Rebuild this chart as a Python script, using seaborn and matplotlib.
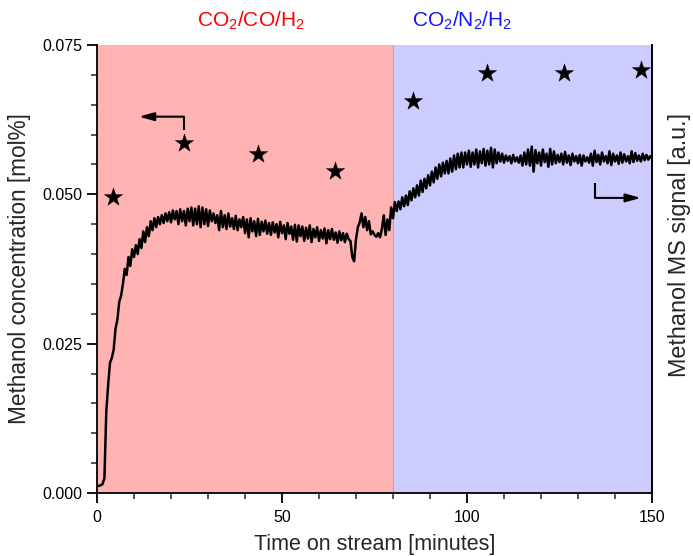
import numpy as np
import pandas as pd
import matplotlib
matplotlib.use("Agg")
import matplotlib.pyplot as plt
import seaborn as sns
from matplotlib.ticker import MultipleLocator, FormatStrFormatter

# ---------------- data ----------------
# GC methanol concentration (stars), left axis
gc_time = [4.3, 23.5, 43.5, 64.3, 85.4, 105.4, 126.2, 147.0]
gc_conc = [0.0496, 0.0586, 0.0568, 0.0539, 0.0656, 0.0703, 0.0703, 0.0708]

# MS signal (a.u.), sampled every 0.5 min from 0 to 150 min
ms_step = 0.5
ms_signal = [
    1.2, 1.2, 1.3, 1.5, 2.5, 13.6, 18.0, 21.8, 22.6, 24.0,
    27.5, 29.0, 32.0, 33.0, 35.0, 37.5, 36.5, 39.5, 38.0, 40.8,
    39.5, 41.5, 40.0, 42.5, 41.0, 43.8, 42.0, 44.5, 43.0, 45.5,
    44.0, 46.0, 44.5, 46.2, 45.0, 46.5, 45.2, 46.8, 45.5, 47.0,
    45.3, 47.3, 45.8, 47.2, 45.0, 47.5, 45.5, 47.2, 44.8, 47.6,
    45.5, 47.8, 44.8, 47.6, 45.0, 48.0, 44.5, 47.8, 45.0, 47.5,
    44.7, 47.3, 45.5, 46.8, 45.2, 46.5, 44.0, 47.2, 44.5, 46.5,
    44.2, 46.8, 44.6, 46.0, 44.2, 46.4, 44.0, 45.8, 44.5, 46.2,
    43.5, 45.8, 42.8, 46.0, 43.8, 45.5, 43.0, 45.9, 43.2, 45.4,
    43.8, 45.6, 43.4, 45.2, 43.2, 45.3, 43.6, 45.0, 42.8, 45.4,
    43.5, 44.8, 42.5, 45.2, 43.4, 44.6, 42.4, 44.9, 42.1, 44.8,
    43.0, 44.6, 42.2, 44.4, 42.6, 44.8, 42.0, 44.2, 42.8, 44.5,
    42.2, 44.0, 42.6, 44.3, 41.8, 44.0, 42.5, 44.2, 42.4, 43.6,
    41.9, 43.8, 42.3, 43.5, 42.0, 43.4, 42.5, 42.2, 39.5, 38.8,
    42.5, 44.5, 45.3, 46.8, 44.5, 46.2, 44.0, 45.5, 43.3, 43.8,
    43.2, 42.9, 43.5, 42.8, 44.2, 46.5, 43.2, 45.8, 44.0, 47.8,
    46.0, 48.7, 47.2, 48.8, 47.5, 49.5, 48.0, 49.8, 48.2, 50.5,
    49.0, 51.0, 49.5, 51.5, 49.8, 52.3, 50.4, 52.6, 51.0, 53.2,
    51.5, 53.8, 52.0, 54.5, 52.6, 55.0, 53.0, 55.3, 53.5, 55.6,
    53.5, 56.0, 53.8, 56.5, 54.2, 56.8, 54.5, 57.0, 54.5, 57.0,
    55.0, 57.3, 54.6, 57.0, 55.0, 57.5, 54.5, 57.2, 55.2, 57.6,
    54.8, 57.3, 55.0, 57.8, 54.5, 57.5, 55.2, 57.0, 55.5, 56.8,
    55.3, 56.5, 55.6, 56.4, 55.2, 56.6, 55.5, 56.2, 55.3, 56.5,
    54.8, 57.0, 55.0, 57.5, 54.8, 58.0, 53.8, 57.4, 55.2, 57.0,
    54.8, 57.5, 55.4, 56.8, 54.6, 57.6, 55.0, 57.2, 55.2, 56.6,
    55.4, 56.8, 55.0, 57.1, 55.3, 56.5, 54.9, 56.8, 55.5, 56.4,
    55.2, 56.6, 54.8, 56.5, 55.5, 56.2, 55.3, 56.8, 54.8, 57.3,
    55.4, 56.6, 55.0, 57.0, 55.5, 56.4, 55.2, 57.2, 54.9, 56.8,
    55.5, 56.5, 55.1, 57.0, 55.3, 56.7, 55.5, 56.4, 55.2, 57.2,
    55.4, 56.9, 55.6, 56.5, 55.5, 56.8, 55.7, 56.6, 55.8, 56.4,
    56.0,
]
ms_time = np.arange(len(ms_signal)) * ms_step

phases = ["CO$_2$/CO/H$_2$", "CO$_2$/N$_2$/H$_2$"]
phase_start = [0, 80]
phase_end = [80, 150]
phase_fill = ["#FFB3B3", "#CCCCFF"]
phase_text = ["#FF0000", "#1414FF"]

x_ticks = [0, 50, 100, 150]
y_ticks = [0.000, 0.025, 0.050, 0.075]

gc_df = pd.DataFrame({"time": gc_time, "conc": gc_conc})
ms_df = pd.DataFrame({"time": ms_time, "signal": ms_signal})

# ---------------- style ----------------
sns.set_style("ticks")
plt.rcParams["font.family"] = ["Liberation Sans", "DejaVu Sans"]
plt.rcParams["mathtext.default"] = "regular"

fig = plt.figure(figsize=(6.93, 5.56), dpi=100)
ax = fig.add_axes([0.140, 0.1133, 0.8008, 0.8058])

for s, e, c in zip(phase_start, phase_end, phase_fill):
    ax.axvspan(s, e, color=c, lw=0, zorder=0)
ax.axvline(phase_end[0], color="#E48FB4", lw=0.8, zorder=0.5)

sns.scatterplot(data=gc_df, x="time", y="conc", marker="*", s=190,
                color="black", edgecolor="black", linewidth=0.3, ax=ax, zorder=3)

ax.set_xlim(0, 150)
ax.set_ylim(0, 0.075)
ax.set_xticks(x_ticks)
ax.set_yticks(y_ticks)
ax.yaxis.set_major_formatter(FormatStrFormatter("%.3f"))
ax.xaxis.set_minor_locator(MultipleLocator(10))
ax.yaxis.set_minor_locator(MultipleLocator(0.005))
ax.tick_params(which="major", direction="out", length=7, width=1.3, labelsize=11.5, colors="black")
ax.tick_params(which="minor", direction="out", length=4, width=1.1)
ax.tick_params(axis="y", right=False, which="both")
ax.tick_params(axis="x", top=False, which="both", pad=5)
ax.set_xlabel("Time on stream [minutes]", fontsize=15.5, labelpad=7)
ax.set_ylabel("Methanol concentration [mol%]", fontsize=16.3, labelpad=8)
for side in ["left", "bottom", "right"]:
    ax.spines[side].set_color("black")
    ax.spines[side].set_linewidth(1.3)
ax.spines["top"].set_visible(False)

# MS signal on twin axis
ax2 = ax.twinx()
sns.lineplot(data=ms_df, x="time", y="signal", color="black", lw=1.8, ax=ax2)
ax2.set_ylim(0, 75)
ax2.set_yticks([])
ax2.set_ylabel("")
ax2.spines["top"].set_visible(False)
ax2.spines["right"].set_color("black")
ax2.spines["right"].set_linewidth(1.3)
ax2.spines["left"].set_visible(False)
ax2.spines["bottom"].set_visible(False)
fig.text(0.981, 0.559, "Methanol MS signal [a.u.]", rotation=90,
         ha="center", va="center", fontsize=16.8)

# Phase labels
for lab, c, xc in zip(phases, phase_text, [41.6, 98.8]):
    ax.text(xc, 1.03, lab, transform=ax.get_xaxis_transform(), ha="center",
            va="bottom", fontsize=15, color=c)

# Axis-indicating arrows
arrow_kw = dict(arrowstyle="-|>,head_length=0.9,head_width=0.25", color="black", lw=1.5,
                shrinkA=0, shrinkB=0)
ax.plot([23.5, 23.5], [0.0608, 0.0630], color="black", lw=1.5, solid_capstyle="butt")
ax.annotate("", xy=(11.3, 0.0630), xytext=(23.5, 0.0630), arrowprops=arrow_kw)
ax.plot([134.6, 134.6], [0.0519, 0.0494], color="black", lw=1.5, solid_capstyle="butt")
ax.annotate("", xy=(147.0, 0.0494), xytext=(134.6, 0.0494), arrowprops=arrow_kw)

fig.savefig("out.png", dpi=100)
